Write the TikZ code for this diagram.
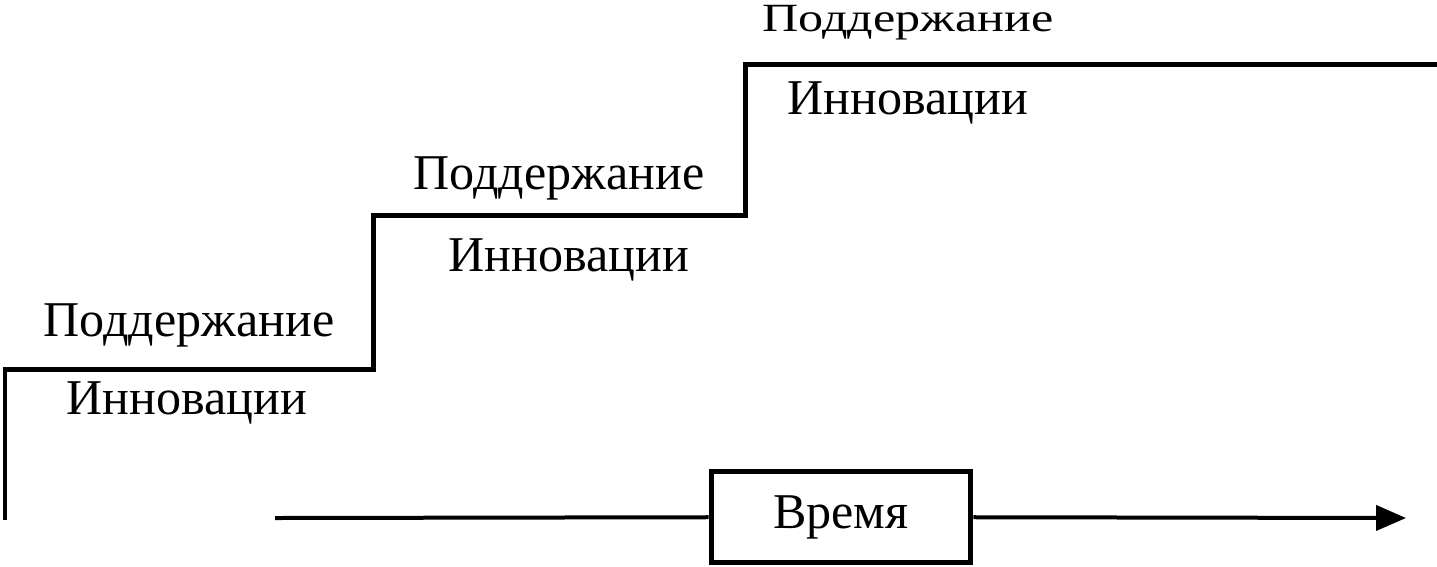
\documentclass[tikz,border=0pt]{standalone}
\usepackage{fontspec}
\setmainfont{Liberation Serif}
\usetikzlibrary{arrows.meta}

\begin{document}
\begin{tikzpicture}[x=0.02cm,y=-0.02cm]

      \useasboundingbox (0,0) rectangle (1437,566);

      % steps
      \coordinate (s0) at (5,520);
      \coordinate (s1) at (5,369);
      \coordinate (s2) at (373,369);
      \coordinate (s3) at (373,215);
      \coordinate (s4) at (745,215);
      \coordinate (s5) at (745,64);
      \coordinate (s6) at (1437,64);

      \draw[line width=0.1cm] (s0) -- (s1) -- (s2) -- (s3) -- (s4) -- (s5) -- (s6);

      \begin{scope}[every node/.style={inner sep=0pt, font=\fontsize{28.5pt}{34pt}\selectfont}]
        \node (p1) at (189,325) {Поддержание};
        \node (i1) at (187,403) {Инновации};
        \node (p2) at (559,178) {Поддержание};
        \node (i2) at (569,260) {Инновации};
        \node[yscale=0.8, transform shape] (p3) at (908,23) {Поддержание};
        \node (i3) at (908,103) {Инновации};
      \end{scope}

      % time axis
      \node[draw, line width=0.1cm, minimum width=5.2cm, minimum height=1.82cm,
            font=\fontsize{28.5pt}{34pt}\selectfont] (t) at (841,517) {Время};
      \coordinate (t0) at (275,518);
      \coordinate (t1) at (1406,518);

      \begin{scope}[line width=0.08cm]
        \draw (t0) -- (t);
        \draw[-{Triangle[length=0.6cm,width=0.5cm]}] (t) -- (t1);
      \end{scope}

    \end{tikzpicture}
\end{document}
